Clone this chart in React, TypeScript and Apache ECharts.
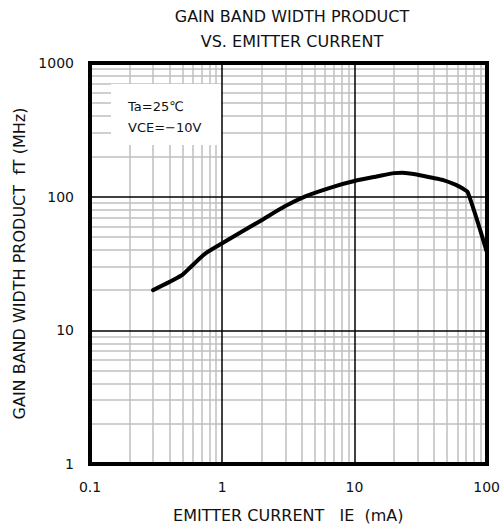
import React, { useEffect, useRef } from "react";
import * as echarts from "echarts";

const titleLines = ["GAIN BAND WIDTH PRODUCT", "VS. EMITTER CURRENT"];
const xAxisName = "EMITTER CURRENT   IE  (mA)";
const yAxisName = "GAIN BAND WIDTH PRODUCT  fT (MHz)";
const conditionLines = ["Ta=25℃", "VCE=−10V"];

const xTicks = [0.1, 1, 10, 100];
const yTicks = [1, 10, 100, 1000];
const minorMultipliers = [2, 3, 4, 5, 6, 7, 8, 9];

// emitter current IE (mA)
const currentIE = [0.3, 0.49, 0.57, 0.74, 1, 2, 3, 4.3, 7, 10, 15, 20, 23, 30, 38, 47, 58, 66, 72, 100];
// gain band width product fT (MHz)
const fT = [20, 25.7, 29.4, 37.3, 44.8, 67, 85, 101, 119, 131, 142, 150, 151, 146, 139, 133, 123, 115, 108, 39];

const FONT = "DejaVu Sans";

export default function App() {
  const ref = useRef<HTMLDivElement>(null);

  useEffect(() => {
    if (!ref.current) return;
    const chart = echarts.init(ref.current, undefined, { renderer: "svg" });

    const xMinor: number[] = [];
    xTicks.slice(0, -1).forEach((d) => minorMultipliers.forEach((m) => xMinor.push(d * m)));
    const yMinor: number[] = [];
    yTicks.slice(0, -1).forEach((d) => minorMultipliers.forEach((m) => yMinor.push(d * m)));

    const minorLine = { color: "#bfbfbf", width: 1.5, type: "solid" as const };
    const fmt = (v: number) => String(Number(v.toPrecision(6)));

    const baseX = {
      type: "log" as const,
      logBase: 10,
      min: xTicks[0],
      max: xTicks[xTicks.length - 1],
    };
    const baseY = {
      type: "log" as const,
      logBase: 10,
      min: yTicks[0],
      max: yTicks[yTicks.length - 1],
    };
    const border = { show: true, lineStyle: { color: "#000", width: 4, cap: "square" } };

    chart.setOption({
      animation: false,
      backgroundColor: "#fff",
      grid: { left: 90, right: 15, top: 63, bottom: 63, containLabel: false },
      graphic: [
        {
          type: "text",
          z: 10,
          style: {
            text: titleLines[0],
            x: 292,
            y: 16,
            textAlign: "center",
            textVerticalAlign: "middle",
            font: `16px "${FONT}"`,
            fill: "#111",
          },
        },
        {
          type: "text",
          z: 10,
          style: {
            text: titleLines[1],
            x: 292,
            y: 41,
            textAlign: "center",
            textVerticalAlign: "middle",
            font: `16px "${FONT}"`,
            fill: "#111",
          },
        },
        {
          type: "rect",
          z: 4,
          shape: { x: 111, y: 84, width: 110, height: 61 },
          style: { fill: "#fff" },
        },
        {
          type: "text",
          z: 6,
          style: {
            text: conditionLines[0],
            x: 128,
            y: 106,
            textVerticalAlign: "middle",
            font: `13px "${FONT}"`,
            fill: "#111",
          },
        },
        {
          type: "text",
          z: 6,
          style: {
            text: conditionLines[1],
            x: 128,
            y: 127,
            textVerticalAlign: "middle",
            font: `13px "${FONT}"`,
            fill: "#111",
          },
        },
      ],
      xAxis: [
        {
          ...baseX,
          position: "bottom",
          z: 2,
          name: xAxisName,
          nameLocation: "middle",
          nameGap: 43,
          nameTextStyle: { fontFamily: FONT, fontSize: 16, color: "#111" },
          axisLine: border,
          axisTick: { show: false },
          axisLabel: { fontFamily: FONT, fontSize: 14, color: "#111", margin: 16, formatter: fmt },
          splitLine: { show: true, lineStyle: { color: "#000", width: 1.5 } },
        },
        {
          ...baseX,
          position: "top",
          z: 2,
          axisLine: border,
          axisTick: { show: false },
          axisLabel: { show: false },
          splitLine: { show: false },
        },
      ],
      yAxis: [
        {
          ...baseY,
          position: "left",
          z: 2,
          name: yAxisName,
          nameLocation: "middle",
          nameGap: 62,
          nameTextStyle: { fontFamily: FONT, fontSize: 16, color: "#111" },
          axisLine: border,
          axisTick: { show: false },
          axisLabel: { fontFamily: FONT, fontSize: 14, color: "#111", margin: 16, formatter: fmt },
          splitLine: { show: true, lineStyle: { color: "#000", width: 1.5 } },
        },
        {
          ...baseY,
          position: "right",
          z: 2,
          axisLine: border,
          axisTick: { show: false },
          axisLabel: { show: false },
          splitLine: { show: false },
        },
      ],
      series: [
        {
          type: "line",
          z: 1,
          silent: true,
          data: [],
          markLine: {
            z: 1,
            silent: true,
            symbol: ["none", "none"],
            label: { show: false },
            lineStyle: minorLine,
            data: [
              ...xMinor.map((v) => ({ xAxis: v })),
              ...yMinor.map((v) => ({ yAxis: v })),
            ],
          },
        },
        {
          type: "line",
          z: 10,
          data: currentIE.map((x, i) => [x, fT[i]]),
          showSymbol: false,
          symbol: "none",
          smooth: 0.25,
          lineStyle: { color: "#000", width: 4, cap: "round", join: "round" },
        },
      ],
    });

    return () => chart.dispose();
  }, []);

  return (
    <div
      ref={ref}
      style={{ position: "fixed", left: 0, top: 0, width: 503, height: 528 }}
    />
  );
}
